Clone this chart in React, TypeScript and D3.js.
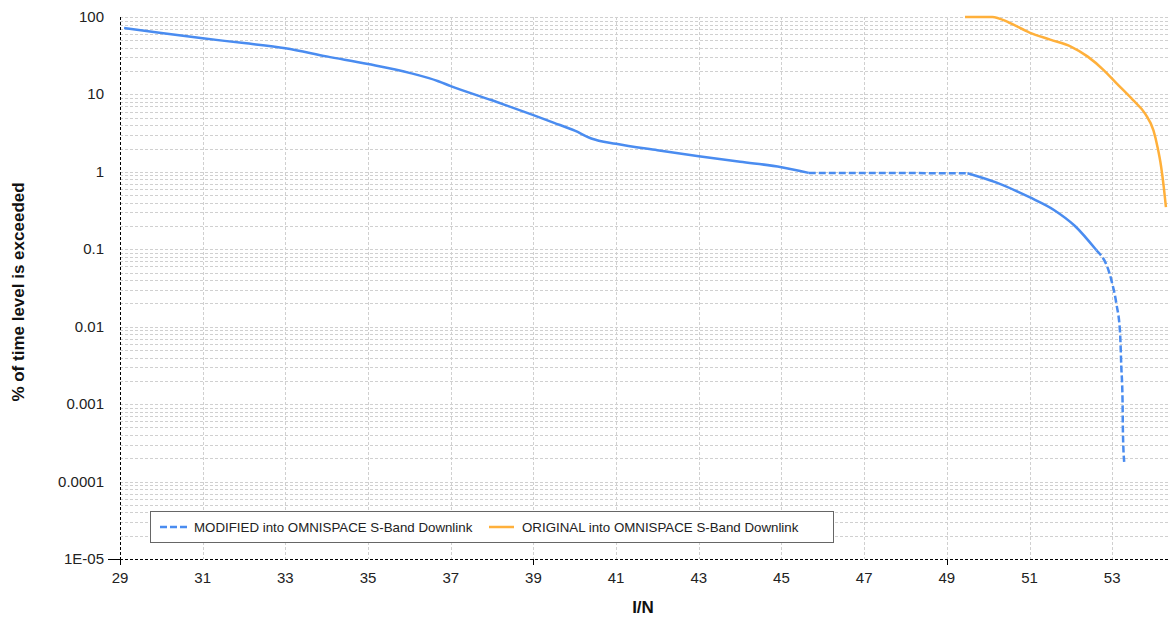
import React from "react";
import * as d3 from "d3";

// ---- data ----
const modifiedX = [29.1, 30, 31, 32, 33, 34, 35, 36, 36.7, 37, 38, 39, 39.5, 40, 40.4, 41, 42, 43, 44, 45, 45.66, 49.5, 50.19, 51.0, 51.6, 52.1, 52.62, 52.98, 53.1, 53.19, 53.22, 53.25, 53.26, 53.29];
const modifiedY = [72, 62, 53, 46, 39.5, 31, 24.7, 19, 14.8, 12.8, 8.4, 5.4, 4.3, 3.4, 2.7, 2.3, 1.9, 1.59, 1.35, 1.15, 0.97, 0.96, 0.73, 0.47, 0.32, 0.2, 0.097, 0.04, 0.02, 0.0084, 0.0031, 0.00115, 0.00043, 0.00018];
// index ranges [start, end] of the modified series and whether drawn dashed
const modifiedSegments: [number, number, boolean][] = [
  [0, 20, false],
  [20, 21, true],
  [21, 26, false],
  [26, 33, true],
];
const originalX = [49.44, 50.1, 50.5, 51.0, 51.5, 52.0, 52.4, 52.8, 53.1, 53.5, 53.8, 54.0, 54.1, 54.18, 54.25, 54.3];
const originalY = [100, 100, 85, 63, 51, 41.5, 31, 20.5, 14, 8.5, 5.6, 3.4, 2.05, 1.2, 0.62, 0.35];

const xTickValues = [29, 31, 33, 35, 37, 39, 41, 43, 45, 47, 49, 51, 53];
const xMajorTicks = [29, 39, 49];
const yTickValues = [100, 10, 1, 0.1, 0.01, 0.001, 0.0001, 0.00001];
const yTickLabels = ["100", "10", "1", "0.1", "0.01", "0.001", "0.0001", "1E-05"];
const legendLabels = ["MODIFIED into OMNISPACE S-Band Downlink", "ORIGINAL into OMNISPACE S-Band Downlink"];

const W = 1175, H = 626;
const L = 120, R = 1168, T = 17, B = 559;
const BLUE = "#4a8cf0";
const ORANGE = "#ffb03b";
const GRID = "#d0d0d0";
const FONT = "'Liberation Sans', Arial, sans-serif";

export default function App() {
  const x = d3.scaleLinear().domain([29, 54.35]).range([L, R]);
  const y = d3.scaleLog().domain([1e-5, 100]).range([B, T]);

  const minorY: number[] = [];
  for (let e = -5; e < 2; e++) for (let k = 1; k <= 9; k++) minorY.push(k * Math.pow(10, e));
  minorY.push(100);

  const line = d3.line<[number, number]>().x(d => x(d[0])).y(d => y(d[1])).curve(d3.curveMonotoneX);
  const modPts: [number, number][] = modifiedX.map((v, i) => [v, modifiedY[i]]);
  const origPts: [number, number][] = originalX.map((v, i) => [v, originalY[i]]);

  return (
    <svg width={W} height={H} style={{ position: "absolute", left: 0, top: 0, background: "#fff" }} fontFamily={FONT}>
      {/* horizontal grid */}
      {minorY.map((v, i) => (
        <line key={"hy" + i} x1={L} x2={R} y1={Math.round(y(v)) + 0.5} y2={Math.round(y(v)) + 0.5} stroke={GRID} strokeDasharray="3,2" strokeWidth={1} />
      ))}
      {/* vertical grid */}
      {xTickValues.slice(1).map((v, i) => (
        <line key={"vx" + i} x1={Math.round(x(v)) + 0.5} x2={Math.round(x(v)) + 0.5} y1={T} y2={B} stroke={GRID} strokeDasharray="3,2" strokeWidth={1} />
      ))}
      {/* axes */}
      <line x1={L + 0.5} x2={L + 0.5} y1={T} y2={B} stroke="#000" strokeDasharray="3,2" />
      <line x1={L} x2={R} y1={B + 0.5} y2={B + 0.5} stroke="#000" strokeDasharray="3,2" />
      <line x1={L - 12} x2={L} y1={B + 0.5} y2={B + 0.5} stroke="#000" />
      {xMajorTicks.map((v, i) => (
        <line key={"xt" + i} x1={Math.round(x(v)) + 0.5} x2={Math.round(x(v)) + 0.5} y1={B} y2={B + 6} stroke="#000" />
      ))}
      {/* tick labels */}
      {xTickValues.map((v, i) => (
        <text key={"xl" + i} x={x(v)} y={B + 24} textAnchor="middle" fontSize={15} fill="#222">{v}</text>
      ))}
      {yTickValues.map((v, i) => (
        <text key={"yl" + i} x={L - 16} y={y(v) + 5} textAnchor="end" fontSize={15} fill="#222">{yTickLabels[i]}</text>
      ))}
      {/* axis titles */}
      <text x={643} y={613} textAnchor="middle" fontSize={17} fontWeight="bold" fill="#111">I/N</text>
      <text transform={`translate(24,${292}) rotate(-90)`} textAnchor="middle" fontSize={17} fontWeight="bold" fill="#111">% of time level is exceeded</text>
      {/* series */}
      <path d={line(origPts) || ""} fill="none" stroke={ORANGE} strokeWidth={2.5} />
      {modifiedSegments.map(([s, e, dashed], i) => (
        <path key={"m" + i} d={line(modPts.slice(s, e + 1)) || ""} fill="none" stroke={BLUE} strokeWidth={2.5} strokeDasharray={dashed ? "7,3" : undefined} />
      ))}
      {/* legend */}
      <rect x={150.5} y={511.5} width={683} height={31} fill="#fff" stroke="#666" />
      <line x1={160} x2={188} y1={527} y2={527} stroke={BLUE} strokeWidth={2.5} strokeDasharray="7,3" />
      <text x={194} y={532} fontSize={13.3} fill="#222">{legendLabels[0]}</text>
      <line x1={489} x2={514} y1={527} y2={527} stroke={ORANGE} strokeWidth={2.5} />
      <text x={522} y={532} fontSize={13.3} fill="#222">{legendLabels[1]}</text>
    </svg>
  );
}
